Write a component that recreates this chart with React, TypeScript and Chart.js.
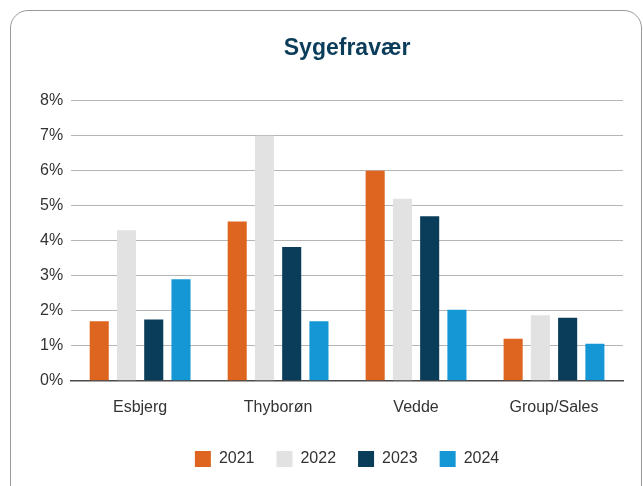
import React, { useEffect, useRef } from "react";
import { Chart, registerables } from "chart.js";

Chart.register(...registerables);

const categories = ["Esbjerg", "Thyborøn", "Vedde", "Group/Sales"];
const seriesNames = ["2021", "2022", "2023", "2024"];
const values2021 = [1.7, 4.55, 6.0, 1.2];
const values2022 = [4.3, 7.0, 5.2, 1.87];
const values2023 = [1.75, 3.82, 4.7, 1.8];
const values2024 = [2.9, 1.7, 2.03, 1.06];
const seriesColors = ["#DD6520", "#E1E2E1", "#0A3D5A", "#1597D5"];
const yTicks = [0, 1, 2, 3, 4, 5, 6, 7, 8];

const FONT = "'Liberation Sans', Arial, Helvetica, sans-serif";

export default function App() {
  const ref = useRef<HTMLCanvasElement | null>(null);

  useEffect(() => {
    if (!ref.current) return;
    const allValues = [values2021, values2022, values2023, values2024];
    const chart = new Chart(ref.current, {
      type: "bar",
      data: {
        labels: categories,
        datasets: seriesNames.map((name, i) => ({
          label: name,
          data: allValues[i],
          backgroundColor: seriesColors[i],
          borderWidth: 0,
          categoryPercentage: 0.79,
          barPercentage: 0.7,
        })),
      },
      options: {
        responsive: false,
        animation: false,
        layout: { padding: { left: 32, right: 20, top: 0, bottom: 9 } },
        plugins: {
          title: {
            display: true,
            text: "Sygefravær",
            fullSize: false,
            color: "#0B3D5B",
            font: { family: FONT, size: 23, weight: "bold" },
            padding: { top: 35, bottom: 38 },
          },
          legend: {
            position: "bottom",
            fullSize: false,
            labels: {
              boxWidth: 16,
              boxHeight: 16,
              padding: 22,
              color: "#333333",
              font: { family: FONT, size: 16 },
            },
          },
          tooltip: { enabled: false },
        },
        scales: {
          x: {
            grid: { display: false, drawTicks: false },
            border: { display: true, color: "#4a4a4a", width: 1.5 },
            ticks: {
              color: "#333333",
              padding: 17,
              font: { family: FONT, size: 16 },
            },
            afterFit: (scale: any) => {
              scale.height -= 5;
            },
          },
          y: {
            min: 0,
            max: 8,
            afterBuildTicks: (scale: any) => {
              scale.ticks = yTicks.map((v) => ({ value: v }));
            },
            grid: {
              color: (ctx: any) => (ctx.tick && ctx.tick.value === 0 ? "rgba(0,0,0,0)" : "#B5B5B5"),
              drawTicks: false,
              lineWidth: 1,
            },
            border: { display: false },
            ticks: {
              color: "#333333",
              padding: 8,
              font: { family: FONT, size: 16 },
              callback: (v: any) => v + "%",
            },
          },
        },
      },
    });
    return () => chart.destroy();
  }, []);

  return (
    <div style={{ position: "fixed", left: 0, top: 0, width: 643, height: 486, overflow: "hidden", background: "#fff" }}>
      <div
        style={{
          position: "absolute",
          left: 10,
          top: 10,
          width: 632,
          height: 500,
          boxSizing: "border-box",
          border: "1px solid #9a9a9a",
          borderRadius: 18,
        }}
      />
      <canvas ref={ref} width={643} height={486} style={{ position: "absolute", left: 0, top: 0, width: 643, height: 486 }} />
    </div>
  );
}
